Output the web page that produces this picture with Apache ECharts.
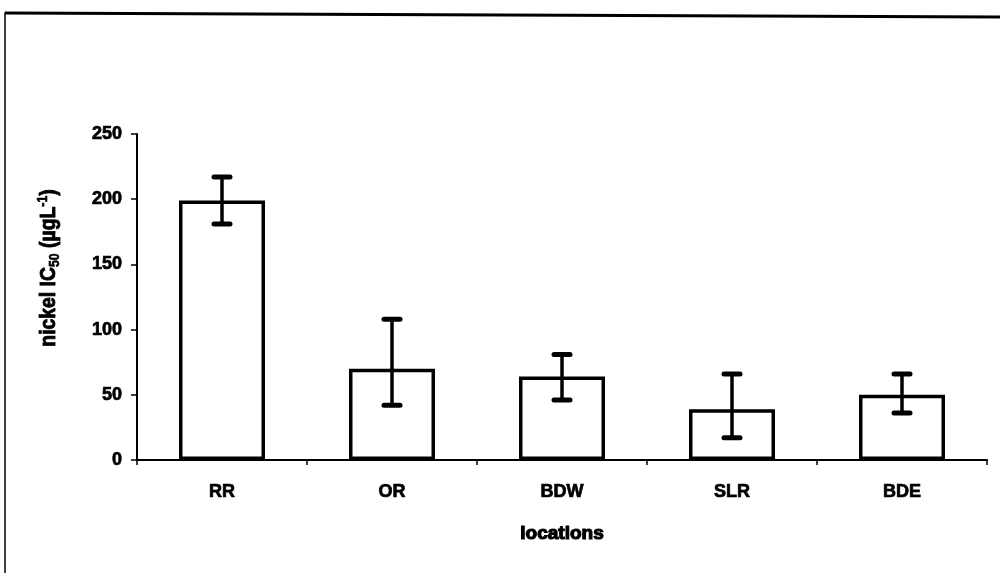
<!DOCTYPE html>
<html>
<head>
<meta charset="utf-8">
<script src="https://cdn.jsdelivr.net/npm/echarts@6/dist/echarts.min.js"></script>
<style>
  html, body { margin: 0; padding: 0; background: #fff; }
  #chart { width: 1000px; height: 573px; }
</style>
</head>
<body>
<div id="chart"></div>
<script>
// Nickel IC50 by sampling location, with the range shown as error bars
const categories = ['RR', 'OR', 'BDW', 'SLR', 'BDE'];
const meanIC50 = [199, 70, 64, 39, 50];
const lowerBound = [181, 42, 46, 17, 36];
const upperBound = [217, 108, 81, 66, 66];
const yTicks = [0, 50, 100, 150, 200, 250];

const FONT = '"Liberation Sans", Arial, sans-serif';
// slightly heavier than plain bold
const heavy = { fontFamily: FONT, fontWeight: 'bold', color: '#000', textBorderColor: '#000', textBorderWidth: 0.7 };
// the same look for raw graphic text (zrender style names)
const heavyZr = { fontFamily: FONT, fontWeight: 'bold', fill: '#000', stroke: '#000', lineWidth: 0.9 };

const errorData = categories.map((c, i) => [i, lowerBound[i], upperBound[i]]);

const chart = echarts.init(document.getElementById('chart'), null, { renderer: 'canvas' });

chart.setOption({
  animation: false,
  backgroundColor: '#ffffff',
  grid: { left: 137, right: 13, top: 134, bottom: 113, containLabel: false },
  graphic: [
    {
      type: 'polyline',
      shape: { points: [[5, 573], [5, 13], [1000, 17]] },
      style: { stroke: '#000', lineWidth: 1.5, fill: null },
      silent: true
    },
    {
      type: 'line',
      shape: { x1: 5, y1: 13, x2: 1000, y2: 17 },
      style: { stroke: '#000', lineWidth: 3 },
      silent: true
    },
    {
      // y-axis title with subscript and superscript, a little condensed
      type: 'text',
      x: 49,
      y: 268,
      rotation: Math.PI / 2,
      scaleX: 0.88,
      silent: true,
      style: {
        text: '{t|nickel IC}{s|50}{t| (\u00b5gL}{p|-1}{t|)}',
        align: 'center',
        verticalAlign: 'middle',
        fill: '#000',
        rich: {
          t: Object.assign({}, heavyZr, { fontSize: 22, lineHeight: 26, verticalAlign: 'middle' }),
          s: Object.assign({}, heavyZr, { fontSize: 14, lineHeight: 26, verticalAlign: 'bottom', lineWidth: 0.6 }),
          p: Object.assign({}, heavyZr, { fontSize: 14, lineHeight: 26, verticalAlign: 'top', lineWidth: 0.6 })
        }
      }
    }
  ],
  xAxis: {
    type: 'category',
    data: categories,
    boundaryGap: true,
    name: 'locations',
    nameLocation: 'middle',
    nameGap: 64,
    nameTextStyle: Object.assign({}, heavy, { fontSize: 19, textBorderWidth: 1.2 }),
    axisLine: { lineStyle: { color: '#000', width: 2 } },
    axisTick: { show: true, length: 5, lineStyle: { color: '#000', width: 1.5 } },
    axisLabel: Object.assign({ margin: 23, fontSize: 18 }, heavy),
    splitLine: { show: false }
  },
  yAxis: {
    type: 'value',
    min: 0,
    max: 250,
    interval: 50,
    axisLine: { show: true, lineStyle: { color: '#000', width: 2 } },
    axisTick: { show: true, length: 6, lineStyle: { color: '#000', width: 1.5 } },
    axisLabel: Object.assign({
      margin: 15,
      fontSize: 18,
      formatter: v => (yTicks.indexOf(v) >= 0 ? String(v) : '')
    }, heavy),
    splitLine: { show: false }
  },
  series: [
    {
      type: 'bar',
      data: meanIC50,
      barWidth: 86,
      itemStyle: { color: '#ffffff', borderColor: '#000', borderWidth: 3.5 },
      z: 2
    },
    {
      type: 'custom',
      data: errorData,
      z: 3,
      renderItem: function (params, api) {
        const idx = api.value(0);
        const lo = api.coord([idx, api.value(1)]);
        const hi = api.coord([idx, api.value(2)]);
        const half = 8;
        const style = { stroke: '#000', lineWidth: 3.5 };
        const capStyle = { stroke: '#000', lineWidth: 5, lineCap: 'round' };
        return {
          type: 'group',
          children: [
            { type: 'line', shape: { x1: hi[0], y1: hi[1], x2: lo[0], y2: lo[1] }, style: style },
            { type: 'line', shape: { x1: hi[0] - half, y1: hi[1], x2: hi[0] + half, y2: hi[1] }, style: capStyle },
            { type: 'line', shape: { x1: lo[0] - half, y1: lo[1], x2: lo[0] + half, y2: lo[1] }, style: capStyle }
          ]
        };
      }
    }
  ]
});
</script>
</body>
</html>
